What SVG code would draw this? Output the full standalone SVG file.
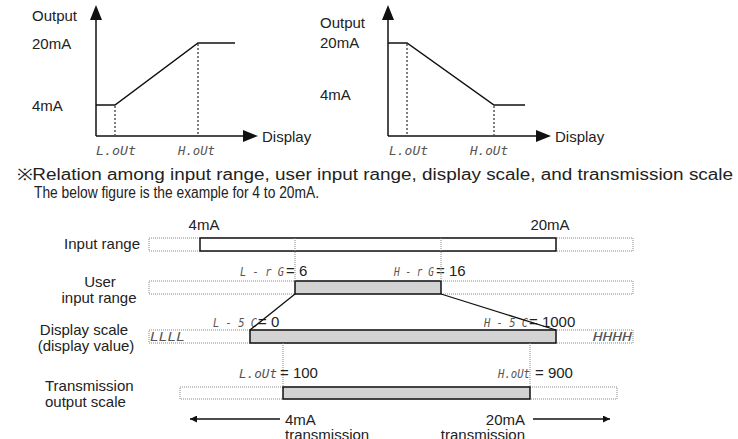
<svg xmlns="http://www.w3.org/2000/svg" width="738" height="439" viewBox="0 0 738 439">
<defs>
<style>
text{font-family:"Liberation Sans",Arial,sans-serif;fill:#222;}
.t{font-size:15px;}
.seg{font-family:"DejaVu Sans Mono","Liberation Mono",monospace;font-style:italic;fill:#555;font-size:12.5px;}
.ax{stroke:#111;stroke-width:1.5;fill:none;}
.plot{stroke:#111;stroke-width:1.5;fill:none;}
.dv{stroke:#555;stroke-width:1.5;stroke-dasharray:2,2;fill:none;}
.dotbox{fill:#fff;stroke:#888;stroke-width:1;stroke-dasharray:1,1;}
.solid{fill:#fff;stroke:#111;stroke-width:1.5;}
.gray{fill:#d3d3d3;stroke:#111;stroke-width:1.5;}
.gdot{stroke:#888;stroke-width:1;stroke-dasharray:1,1;fill:none;}
.ln{stroke:#111;stroke-width:1.3;fill:none;}
</style>
<marker id="ah" viewBox="0 0 10 10" refX="10" refY="5" markerWidth="8" markerHeight="7" orient="auto" markerUnits="userSpaceOnUse">
<path d="M0,0 L10,5 L0,10 z" fill="#111"/>
</marker>
</defs>

<g id="chart-left">
<polygon points="96,5 90,20 102,20" fill="#111"/>
<line class="ax" x1="96" y1="18" x2="96" y2="136"/>
<line class="ax" x1="96" y1="136" x2="245" y2="136"/>
<polygon points="258,136 243,130 243,142" fill="#111"/>
<polyline class="plot" points="96,105 115,105 198,43 235,43"/>
<line class="dv" x1="115" y1="106" x2="115" y2="135"/>
<line class="dv" x1="198" y1="44" x2="198" y2="135"/>
<text class="t" x="32" y="21">Output</text>
<text class="t" x="32" y="49">20mA</text>
<text class="t" x="32" y="111">4mA</text>
<text class="t" x="262" y="142">Display</text>
<text class="seg" x="96" y="155" textLength="40" lengthAdjust="spacingAndGlyphs">L.oUt</text>
<text class="seg" x="178" y="155" textLength="37" lengthAdjust="spacingAndGlyphs">H.oUt</text>
</g>

<g id="chart-right">
<polygon points="388,5 382,20 394,20" fill="#111"/>
<line class="ax" x1="388" y1="18" x2="388" y2="136"/>
<line class="ax" x1="388" y1="136" x2="538" y2="136"/>
<polygon points="551,136 536,130 536,142" fill="#111"/>
<polyline class="plot" points="388,43 407,43 494,105 525,105"/>
<line class="dv" x1="407" y1="44" x2="407" y2="135"/>
<line class="dv" x1="494" y1="106" x2="494" y2="135"/>
<text class="t" x="320" y="28">Output</text>
<text class="t" x="320" y="48">20mA</text>
<text class="t" x="320" y="100">4mA</text>
<text class="t" x="555" y="142">Display</text>
<text class="seg" x="389" y="155" textLength="39" lengthAdjust="spacingAndGlyphs">L.oUt</text>
<text class="seg" x="470" y="155" textLength="38" lengthAdjust="spacingAndGlyphs">H.oUt</text>
</g>

<g id="note">
<text x="17" y="180" font-size="16" textLength="716" lengthAdjust="spacingAndGlyphs">※Relation among input range, user input range, display scale, and transmission scale</text>
<text x="34" y="198" font-size="16" textLength="285" lengthAdjust="spacingAndGlyphs">The below figure is the example for 4 to 20mA.</text>
</g>

<g id="row-input">
<text class="t" x="140" y="249" text-anchor="end">Input range</text>
<rect class="dotbox" x="149" y="238" width="484" height="13"/>
<rect class="solid" x="200" y="238" width="356" height="13"/>
<text class="t" x="204" y="230" text-anchor="middle">4mA</text>
<text class="t" x="550" y="230" text-anchor="middle">20mA</text>
</g>

<g id="row-user">
<text class="t" x="100" y="287" text-anchor="middle">User</text>
<text class="t" x="99" y="303" text-anchor="middle">input range</text>
<rect class="dotbox" x="149" y="281" width="484" height="13"/>
<rect class="gray" x="295" y="281" width="146" height="13"/>
<text class="seg" x="240" y="276" textLength="44" lengthAdjust="spacingAndGlyphs">L - r G</text>
<text class="t" x="286" y="276">= 6</text>
<text class="seg" x="394" y="276" textLength="40" lengthAdjust="spacingAndGlyphs">H - r G</text>
<text class="t" x="436" y="276">= 16</text>
</g>

<g id="row-display">
<text class="t" x="84" y="335" text-anchor="middle">Display scale</text>
<text class="t" x="86" y="351" text-anchor="middle">(display value)</text>
<rect class="dotbox" x="149" y="330" width="484" height="13"/>
<rect class="gray" x="250" y="330" width="306" height="13"/>
<text class="seg" x="150" y="341" textLength="35" lengthAdjust="spacingAndGlyphs">LLLL</text>
<text class="seg" x="593" y="341" textLength="39" lengthAdjust="spacingAndGlyphs">HHHH</text>
<text class="seg" x="213" y="327" textLength="44" lengthAdjust="spacingAndGlyphs">L - 5 C</text>
<text class="t" x="258" y="327">= 0</text>
<text class="seg" x="484" y="327" textLength="44" lengthAdjust="spacingAndGlyphs">H - 5 C</text>
<text class="t" x="529" y="327">= 1000</text>
</g>

<g id="row-transmission">
<text class="t" x="45" y="391">Transmission</text>
<text class="t" x="45" y="407">output scale</text>
<rect class="dotbox" x="180" y="387" width="437" height="12"/>
<rect class="gray" x="283" y="387" width="247" height="12"/>
<text class="seg" x="239" y="378" textLength="38" lengthAdjust="spacingAndGlyphs">L.oUt</text>
<text class="t" x="280" y="378">= 100</text>
<text class="seg" x="498" y="378" textLength="32" lengthAdjust="spacingAndGlyphs">H.oUt</text>
<text class="t" x="535" y="378">= 900</text>
</g>

<g id="transmission-labels">
<text class="t" x="285" y="425">4mA</text>
<text class="t" x="285" y="440">transmission</text>
<text class="t" x="525" y="425" text-anchor="end">20mA</text>
<text class="t" x="525" y="440" text-anchor="end">transmission</text>
</g>

<g id="connectors">
<line class="gdot" x1="295" y1="238" x2="295" y2="281"/>
<line class="gdot" x1="441" y1="238" x2="441" y2="281"/>
<line class="ln" x1="295" y1="294" x2="250" y2="330"/>
<line class="ln" x1="441" y1="294" x2="556" y2="330"/>
<line class="gdot" x1="283" y1="343" x2="283" y2="387"/>
<line class="gdot" x1="530" y1="343" x2="530" y2="387"/>
<line class="ln" x1="280" y1="419" x2="190" y2="419" marker-end="url(#ah)"/>
<line class="ln" x1="533" y1="419" x2="610" y2="419" marker-end="url(#ah)"/>
</g>
</svg>
